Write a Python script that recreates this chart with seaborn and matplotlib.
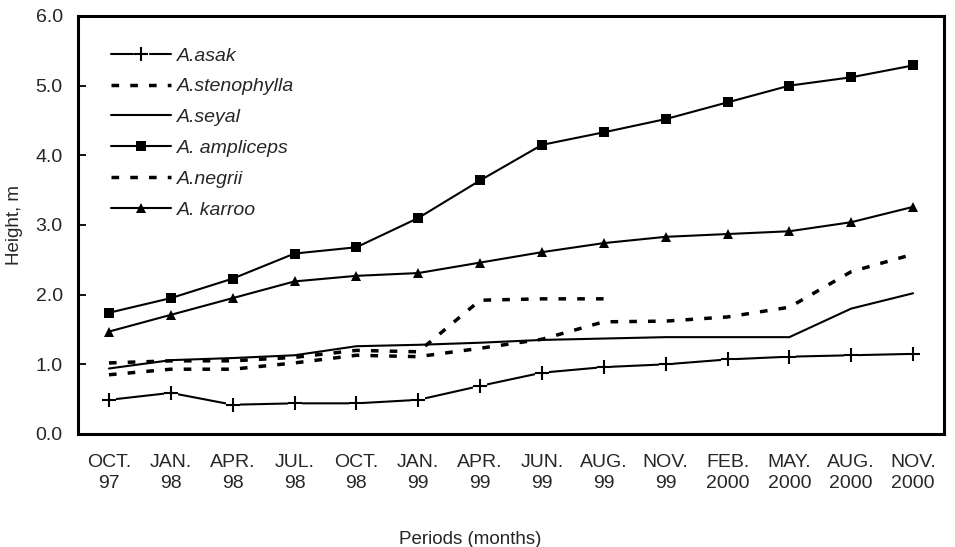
import numpy as np
import pandas as pd
import seaborn as sns
import matplotlib.pyplot as plt
from matplotlib.lines import Line2D
from matplotlib.ticker import FixedLocator, FormatStrFormatter

# Height growth of Acacia species over the observation periods

periods = ['OCT.\n97', 'JAN.\n98', 'APR.\n98', 'JUL.\n98', 'OCT.\n98', 'JAN.\n99',
           'APR.\n99', 'JUN.\n99', 'AUG.\n99', 'NOV.\n99', 'FEB.\n2000',
           'MAY.\n2000', 'AUG.\n2000', 'NOV.\n2000']

asak = [0.49, 0.59, 0.42, 0.44, 0.44, 0.49, 0.69, 0.88, 0.96, 1.00, 1.07, 1.11, 1.13, 1.15]
stenophylla = [1.02, 1.05, 1.05, 1.10, 1.20, 1.18, 1.92, 1.94, 1.94,
               np.nan, np.nan, np.nan, np.nan, np.nan]
seyal = [0.94, 1.06, 1.09, 1.13, 1.26, 1.28, 1.31, 1.35, 1.37, 1.39, 1.39, 1.39, 1.80, 2.02]
ampliceps = [1.74, 1.95, 2.23, 2.59, 2.68, 3.10, 3.64, 4.15, 4.33, 4.52, 4.76, 5.00, 5.12, 5.29]
negrii = [0.85, 0.93, 0.93, 1.02, 1.13, 1.11, 1.23, 1.36, 1.61, 1.62, 1.68, 1.82, 2.33, 2.58]
karroo = [1.47, 1.71, 1.95, 2.19, 2.27, 2.31, 2.46, 2.61, 2.74, 2.83, 2.87, 2.91, 3.04, 3.26]

names = ['A.asak', 'A.stenophylla', 'A.seyal', 'A. ampliceps', 'A.negrii', 'A. karroo']

sns.set_style('white')
plt.rcParams['font.family'] = ['Liberation Sans', 'DejaVu Sans']
plt.rcParams['font.size'] = 14

x = np.arange(len(periods))
dtf = pd.DataFrame({'x': x, 'asak': asak, 'stenophylla': stenophylla, 'seyal': seyal,
                    'ampliceps': ampliceps, 'negrii': negrii, 'karroo': karroo})

fig = plt.figure(figsize=(9.55, 5.47), dpi=100)
ax = fig.add_axes([0.0817, 0.2066, 0.9068, 0.7642])

lw = 1.5
dash = (0, (2.2, 3.2))

# solid lines
sns.lineplot(data=dtf, x='x', y='seyal', ax=ax, color='black', lw=lw, estimator=None)
sns.lineplot(data=dtf, x='x', y='ampliceps', ax=ax, color='black', lw=lw, estimator=None,
             marker='s', markersize=7, markeredgewidth=0)
sns.lineplot(data=dtf, x='x', y='karroo', ax=ax, color='black', lw=lw, estimator=None,
             marker='^', markersize=7.5, markeredgewidth=0)

# dashed lines
sns.lineplot(data=dtf.dropna(), x='x', y='stenophylla', ax=ax, color='black', lw=2.5,
             estimator=None, linestyle=dash)
sns.lineplot(data=dtf, x='x', y='negrii', ax=ax, color='black', lw=2.5,
             estimator=None, linestyle=dash)

# asak: line with small gaps round the crosses
sns.lineplot(data=dtf, x='x', y='asak', ax=ax, color='black', lw=lw, estimator=None)
sns.scatterplot(data=dtf, x='x', y='asak', ax=ax, color='white', marker='s', s=110,
                linewidth=0, zorder=3)
sns.scatterplot(data=dtf, x='x', y='asak', ax=ax, color='black', marker='+', s=110,
                linewidth=1.5, zorder=4)

ax.set_xlim(-0.5, len(periods) - 0.5)
ax.set_ylim(0, 6)
ax.yaxis.set_major_locator(FixedLocator(np.arange(0, 6.1, 1.0)))
ax.yaxis.set_major_formatter(FormatStrFormatter('%.1f'))

ax.set_xticks(np.arange(0.5, len(periods) - 1, 1.0))
ax.set_xticklabels([])
ax.set_xticks(x, minor=True)
ax.set_xticklabels(periods, minor=True, linespacing=1.32)
ax.tick_params(axis='x', which='major', direction='in', length=6, width=1.3, color='black')
ax.tick_params(axis='x', which='minor', length=0, pad=14.5, labelsize=14)
ax.tick_params(axis='y', direction='in', length=6, width=1.3, color='black',
               pad=11, labelsize=14, left=True)

for s in ax.spines.values():
    s.set_visible(True)
    s.set_color('black')
    s.set_linewidth(2.2)

ax.set_xlabel('Periods (months)', fontsize=13.5)
ax.xaxis.set_label_coords(0.4527, -0.231)
ax.set_ylabel('Height, m', fontsize=13.5, labelpad=9)

# legend
plus_h = (Line2D([], [], color='black', lw=lw),
          Line2D([], [], color='white', marker='s', markersize=10, lw=0),
          Line2D([], [], color='black', marker='+', markersize=10, mew=1.5, lw=0))
handles = [plus_h,
           Line2D([], [], color='black', lw=2.5, linestyle=dash),
           Line2D([], [], color='black', lw=lw),
           Line2D([], [], color='black', lw=lw, marker='s', markersize=7, mew=0),
           Line2D([], [], color='black', lw=2.5, linestyle=dash),
           Line2D([], [], color='black', lw=lw, marker='^', markersize=7.5, mew=0)]
leg = ax.legend(handles, names, loc='upper left', bbox_to_anchor=(0.038, 0.926),
                frameon=False, borderpad=0, borderaxespad=0, handlelength=3.1,
                handletextpad=0.3, labelspacing=0.68, numpoints=1,
                prop={'style': 'italic', 'size': 14})

fig.savefig('out.png', dpi=100)
